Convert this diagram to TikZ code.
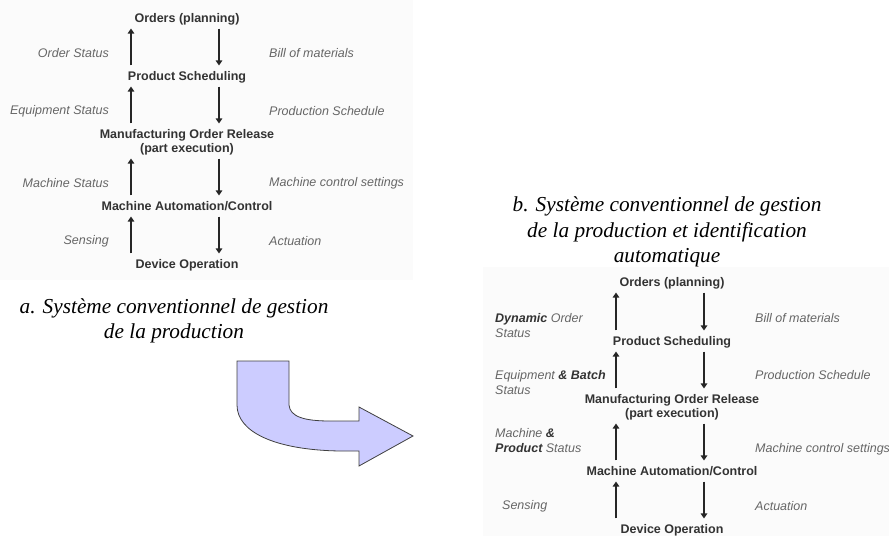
\documentclass[tikz,border=0pt]{standalone}
\usepackage{fontspec}
\setmainfont{Liberation Serif}
\newfontfamily\diagfont{Liberation Sans}
\usetikzlibrary{arrows.meta}
\definecolor{lilla}{RGB}{204,204,255}
\definecolor{fondo}{RGB}{251,251,251}
\newcommand{\forte}[1]{{\bfseries\color{black!80}#1}}

\begin{document}
\begin{tikzpicture}[x=1pt,y=-1pt,
    blocco/.style={font=\diagfont\bfseries\fontsize{12.5}{14}\selectfont, text=black!80,
      inner sep=0pt, align=center, text depth=2.6pt},
    etich/.style={font=\diagfont\itshape\fontsize{12.5}{15}\selectfont, text=black!60,
      inner sep=0pt, align=left},
    freccia/.style={line width=2.4pt, draw=black!85, -{Triangle[length=5pt,width=6.5pt]}},
    su/.style={freccia, shorten <=5.5pt, shorten >=3.5pt},
    giu/.style={freccia, shorten <=3.5pt, shorten >=5.5pt},
    didas/.style={font=\itshape\fontsize{21.3}{25.5}\selectfont, align=center, inner sep=0pt}]
  \useasboundingbox (0,0) rectangle (889,536);
  \fill[fondo] (0,0) rectangle (413,280);
  \fill[fondo] (483,267) rectangle (889,536);

  % Nodi (a)
  \node[blocco] (oA) at (187,19) {Orders (planning)};
  \node[blocco] (psA) at (187,77) {Product Scheduling};
  \node[blocco] (morA) at (187,142) {Manufacturing Order Release\\(part execution)};
  \node[blocco] (macA) at (187,207) {Machine Automation/Control};
  \node[blocco] (devA) at (187,265) {Device Operation};
  \coordinate (suA) at (131,0);
  \coordinate (giuA) at (219,0);

  \node[etich, anchor=east] (osA) at (109,53) {Order Status};
  \node[etich, anchor=east] (esA) at (109,111) {Equipment Status};
  \node[etich, anchor=east] (msA) at (109,183) {Machine Status};
  \node[etich, anchor=east] (seA) at (109,241) {Sensing};
  \node[etich, anchor=west] (bmA) at (269,53) {Bill of materials};
  \node[etich, anchor=west] (pdA) at (269,111) {Production Schedule};
  \node[etich, anchor=west] (mcA) at (269,183) {Machine control settings};
  \node[etich, anchor=west] (acA) at (269,241) {Actuation};

  % Archi (a)
  \draw[su] (psA.north -| suA) -- (oA.south -| suA);
  \draw[giu] (oA.south -| giuA) -- (psA.north -| giuA);
  \draw[su] (morA.north -| suA) -- (psA.south -| suA);
  \draw[giu] (psA.south -| giuA) -- (morA.north -| giuA);
  \draw[su] (macA.north -| suA) -- (morA.south -| suA);
  \draw[giu] (morA.south -| giuA) -- (macA.north -| giuA);
  \draw[su] (devA.north -| suA) -- (macA.south -| suA);
  \draw[giu] (macA.south -| giuA) -- (devA.north -| giuA);

  % Nodi (b)
  \node[blocco] (oB) at (672,283) {Orders (planning)};
  \node[blocco] (psB) at (672,342) {Product Scheduling};
  \node[blocco] (morB) at (672,407) {Manufacturing Order Release\\(part execution)};
  \node[blocco] (macB) at (672,472) {Machine Automation/Control};
  \node[blocco] (devB) at (672,530) {Device Operation};
  \coordinate (suB) at (616,0);
  \coordinate (giuB) at (704,0);

  \node[etich, anchor=west] (osB) at (495,325.5) {\forte{Dynamic} Order\\Status};
  \node[etich, anchor=west] (esB) at (495,382.5) {Equipment \forte{\& Batch}\\Status};
  \node[etich, anchor=west] (msB) at (495,441) {Machine \forte{\&}\\\forte{Product} Status};
  \node[etich, anchor=west] (seB) at (502,506) {Sensing};
  \node[etich, anchor=west] (bmB) at (755,318) {Bill of materials};
  \node[etich, anchor=west] (pdB) at (755,375) {Production Schedule};
  \node[etich, anchor=west] (mcB) at (755,449) {Machine control settings};
  \node[etich, anchor=west] (acB) at (755,506) {Actuation};

  % Archi (b)
  \draw[su] (psB.north -| suB) -- (oB.south -| suB);
  \draw[giu] (oB.south -| giuB) -- (psB.north -| giuB);
  \draw[su] (morB.north -| suB) -- (psB.south -| suB);
  \draw[giu] (psB.south -| giuB) -- (morB.north -| giuB);
  \draw[su] (macB.north -| suB) -- (morB.south -| suB);
  \draw[giu] (morB.south -| giuB) -- (macB.north -| giuB);
  \draw[su] (devB.north -| suB) -- (macB.south -| suB);
  \draw[giu] (macB.south -| giuB) -- (devB.north -| giuB);

  % Didascalie
  \node[didas] (capA) at (174,321) {a. Système conventionnel de gestion\\de la production};
  \node[didas] (capB) at (667,232) {b. Système conventionnel de gestion\\de la production et identification\\automatique};

  % Freccia
  \draw[draw=black!75, fill=lilla, line width=0.8pt]
    (237,361) -- (289,361) -- (289,405)
    .. controls (290,417) and (305,421) .. (330,421) -- (359,421)
    -- (359,407) -- (413,436) -- (359,466) -- (359,451) -- (340,451)
    .. controls (275,450) and (237,432) .. (237,405) -- cycle;
\end{tikzpicture}
\end{document}
